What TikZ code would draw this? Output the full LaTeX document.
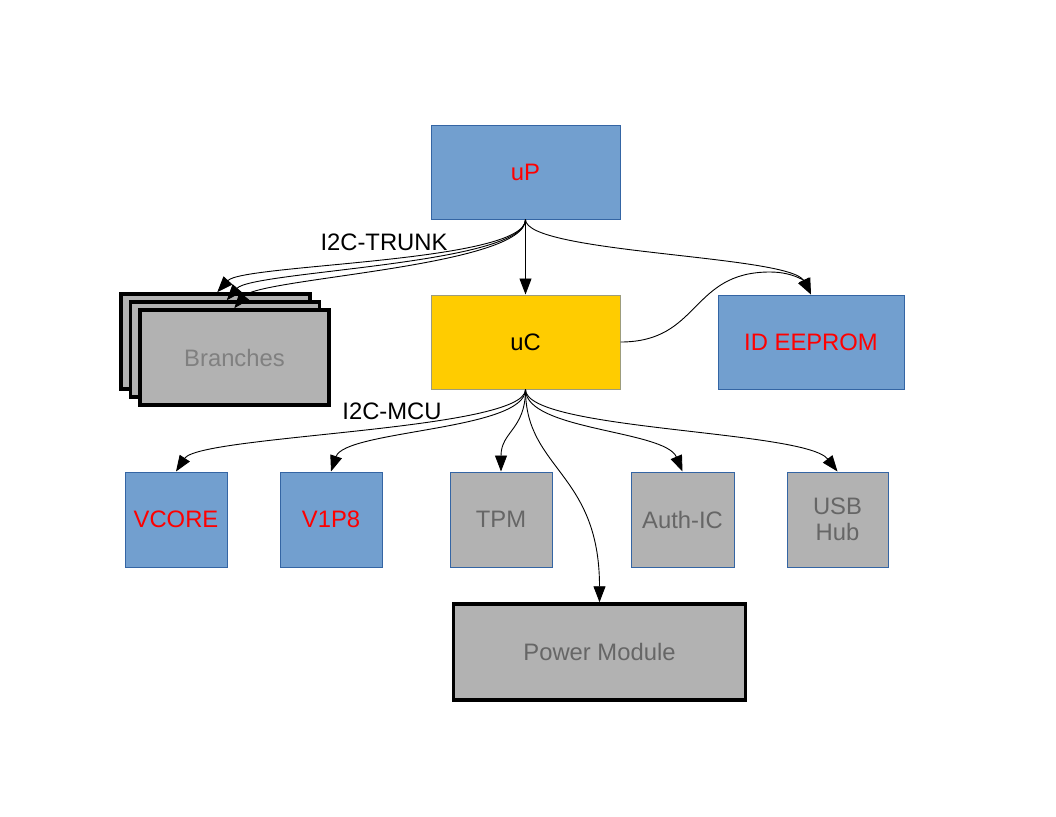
\documentclass[tikz,border=0pt]{standalone}
\usepackage{fontspec}
\setmainfont{Liberation Sans}
\usetikzlibrary{arrows.meta}
\definecolor{bfill}{HTML}{729FCF}
\definecolor{bline}{HTML}{3465A4}
\definecolor{yfill}{HTML}{FFCC00}
\definecolor{yline}{HTML}{9C9C7C}
\definecolor{gfill}{HTML}{B2B2B2}
\definecolor{gtext}{HTML}{666666}
\definecolor{btext}{HTML}{808080}
\tikzset{
  lbl/.style={font=\fontsize{23.8}{26}\selectfont, inner sep=0pt},
  box/.style={rectangle, lbl, align=center},
  bluebox/.style={box, fill=bfill, draw=bline, line width=1pt, text=red},
  graybox/.style={box, fill=gfill, draw=bline, line width=1pt, text=gtext},
  heavybox/.style={box, fill=gfill, draw=black, line width=3.5pt},
  conn/.style={-{Triangle[length=16pt,width=12pt]}, line width=0.9pt, black},
}
\begin{document}
\begin{tikzpicture}[x=1pt,y=-1pt]
\fill[white] (0,0) rectangle (1056,816);
\useasboundingbox (0,0) rectangle (1056,816);

\node[bluebox, minimum width=189pt, minimum height=94pt] (uP) at (525.5,172) {uP};
\node[box, fill=yfill, draw=yline, line width=1pt, minimum width=189pt, minimum height=94pt] (uC) at (525.5,342) {uC};
\node[bluebox, minimum width=186pt, minimum height=94pt] (ee) at (811,342) {ID EEPROM};

\node[heavybox, minimum width=189pt, minimum height=95pt] (b3) at (215.5,341.5) {};
\node[heavybox, minimum width=189pt, minimum height=95pt] (b2) at (225,349.5) {};
\node[heavybox, minimum width=189pt, minimum height=95pt, text=btext] (b1) at (234.5,357.5) {Branches};

\node[bluebox, minimum width=102pt, minimum height=95pt] (vc) at (176,519.5) {VCORE};
\node[bluebox, minimum width=102pt, minimum height=95pt] (v18) at (331,519.5) {V1P8};
\node[graybox, minimum width=102pt, minimum height=95pt] (tpm) at (501,519.5) {TPM};
\node[graybox, minimum width=103pt, minimum height=95pt] (auth) at (682.5,519.5) {Auth-IC};
\node[graybox, minimum width=101pt, minimum height=95pt] (usb) at (837.5,519.5) {USB\\Hub};
\node[heavybox, minimum width=292pt, minimum height=96pt, text=gtext] (pm) at (599.5,652) {Power Module};

\node[lbl] (trunk) at (384,242) {I2C-TRUNK};
\node[lbl] (mcu) at (392,411) {I2C-MCU};

% uP connectors
\draw[conn] (uP.south) -- (uC.north);
\draw[conn] (uP.south) .. controls +(0,43) and (243,264) .. ([xshift=98pt]b3.north west);
\draw[conn] (uP.south) .. controls +(0,45) and (252,271) .. ([xshift=98pt]b2.north west);
\draw[conn] (uP.south) .. controls +(0,47) and (259,278) .. ([xshift=96pt]b1.north west);
\draw[conn] (uP.south) .. controls +(0,34) and (790,255) .. (ee.north);
\draw[conn] (uC.east) .. controls +(80,0) and (690,272) .. (770,272) .. controls (795,272) and (806,283) .. (ee.north);

% uC connectors
\draw[conn] (uC.south) .. controls +(0,41) and (200,435) .. (vc.north);
\draw[conn] (uC.south) .. controls +(0,41) and (345,430) .. (v18.north);
\draw[conn] (uC.south) .. controls +(0,40) and +(0,-40) .. (tpm.north);
\draw[conn] (uC.south) .. controls +(0,80) and +(0,-130) .. (pm.north);
\draw[conn] (uC.south) .. controls +(0,41) and (665,430) .. (auth.north);
\draw[conn] (uC.south) .. controls +(0,41) and (805,430) .. (usb.north);
\end{tikzpicture}
\end{document}
